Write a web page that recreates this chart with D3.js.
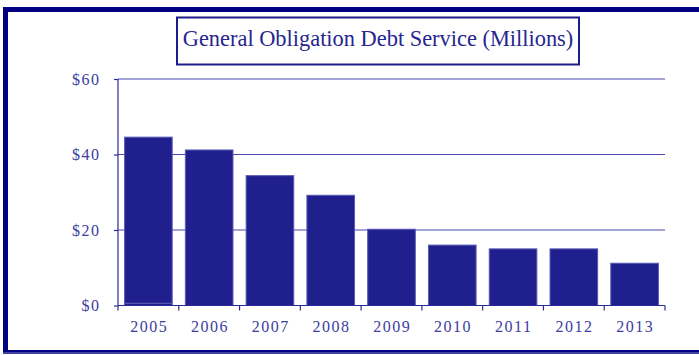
<!DOCTYPE html>
<html lang="en">
<head>
    <meta charset="UTF-8">
    <title>General Obligation Debt Service</title>
    <script src="https://d3js.org/d3.v7.min.js"></script>
    <style>
        body { margin: 0; background: #fff; }
        text { font-family: "Liberation Serif", "DejaVu Serif", serif; }
    </style>
</head>
<body>
    <div id="chart"></div>
    <script>
        // data (millions of dollars)
        const years = ["2005", "2006", "2007", "2008", "2009", "2010", "2011", "2012", "2013"];
        const debtService = [44.0, 41.2, 34.4, 29.2, 20.2, 16.0, 15.0, 15.0, 11.2];
        const smallSegment = [0.6, 0, 0, 0, 0, 0, 0, 0, 0];
        const yTicks = [0, 20, 40, 60];
        const title = "General Obligation Debt Service (Millions)";

        const W = 699, H = 355;
        const margin = { top: 79, right: 34, bottom: 50, left: 118 };
        const width = 665 - margin.left,
            height = 305.5 - margin.top;

        const svg = d3.select("#chart")
            .append("svg")
            .attr("width", W)
            .attr("height", H);

        // outer frame
        svg.append("rect")
            .attr("x", 5.5).attr("y", 9.5)
            .attr("width", 720).attr("height", 343)
            .attr("fill", "none")
            .attr("stroke", "#000080")
            .attr("stroke-width", 5);
        svg.append("rect")
            .attr("x", 3).attr("y", 352)
            .attr("width", W).attr("height", 3)
            .attr("fill", "#fff");
        svg.append("line")
            .attr("x1", 3).attr("x2", W)
            .attr("y1", 353).attr("y2", 353)
            .attr("stroke", "#000080")
            .attr("stroke-width", 1.5);

        // title box
        svg.append("rect")
            .attr("x", 177).attr("y", 17.5)
            .attr("width", 402).attr("height", 47)
            .attr("fill", "#fff")
            .attr("stroke", "#1c1c8a")
            .attr("stroke-width", 2);
        svg.append("text")
            .attr("x", 378).attr("y", 46)
            .attr("text-anchor", "middle")
            .attr("fill", "#26268e")
            .style("font-size", "22.4px")
            .text(title);

        const g = svg.append("g")
            .attr("transform", `translate(${margin.left},${margin.top})`);

        const x = d3.scaleBand()
            .domain(years)
            .range([0, width])
            .paddingInner(0.2)
            .paddingOuter(0.1);

        const y = d3.scaleLinear()
            .domain([0, 60])
            .range([height, 0]);

        // gridlines
        g.append("g")
            .selectAll("line")
            .data(yTicks.filter(d => d > 0))
            .enter()
            .append("line")
            .attr("x1", 0).attr("x2", width)
            .attr("y1", d => y(d)).attr("y2", d => y(d))
            .attr("stroke", "#4a4ab0")
            .attr("stroke-width", 1.2);

        // stacked bars
        const rows = years.map((yr, i) => ({ year: yr, a: smallSegment[i], b: debtService[i] }));
        const stacked = d3.stack().keys(["a", "b"])(rows);

        g.append("g")
            .selectAll("g")
            .data(stacked)
            .enter()
            .append("g")
            .selectAll("rect")
            .data(d => d)
            .enter()
            .filter(d => d[1] - d[0] > 0)
            .append("rect")
            .attr("x", d => x(d.data.year) + 0.5)
            .attr("y", d => y(d[1]))
            .attr("width", x.bandwidth() - 1)
            .attr("height", d => y(d[0]) - y(d[1]))
            .attr("fill", "#201f8e")
            .attr("stroke", "#5a5ab4")
            .attr("stroke-width", 1);

        // axes
        const yAxis = g.append("g")
            .call(d3.axisLeft(y).tickValues(yTicks).tickSize(4).tickPadding(13.5)
                .tickFormat(d => "$" + d));
        const xAxis = g.append("g")
            .attr("transform", `translate(0,${height})`)
            .call(d3.axisBottom(x).tickSize(0).tickPadding(15));

        // tick marks at the band edges
        const edges = years.map(yr => x(yr) - x.step() * 0.1).concat([width]);
        xAxis.selectAll(".edge")
            .data(edges)
            .enter()
            .append("line")
            .attr("class", "edge")
            .attr("x1", d => d).attr("x2", d => d)
            .attr("y1", 0).attr("y2", 5)
            .attr("stroke", "#2a2a96")
            .attr("stroke-width", 1.2);

        [yAxis, xAxis].forEach(ax => {
            ax.select(".domain").attr("stroke", "#2a2a96").attr("stroke-width", 1.2);
            ax.selectAll(".tick line").attr("stroke", "#2a2a96").attr("stroke-width", 1.2);
            ax.selectAll(".tick text")
                .attr("fill", "#3c3ca0")
                .style("font-family", "'Liberation Serif', serif")
                .style("font-size", "16px")
                .style("letter-spacing", "1.5px");
        });
        xAxis.selectAll(".tick text").attr("dx", 0.75);
        yAxis.select(".domain").attr("d", `M0,${height}V0`);
        xAxis.select(".domain").attr("d", `M0,0H${width}`);
    </script>
</body>
</html>
